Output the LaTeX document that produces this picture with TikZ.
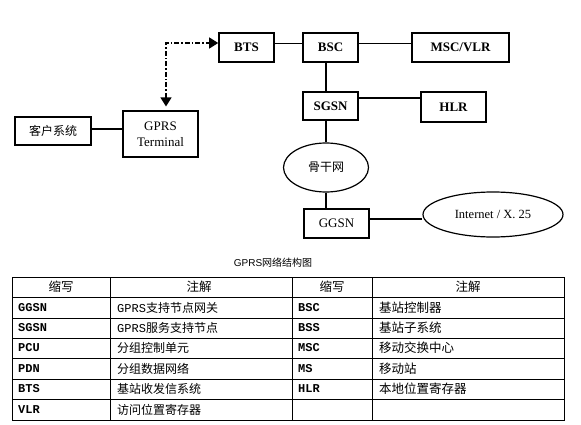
\documentclass[tikz,border=0pt]{standalone}
\usepackage{fontspec}
\setmainfont{Liberation Serif}
\newfontfamily\cjk{Noto Sans CJK SC}
\newfontfamily\monof{Liberation Mono}
\newfontfamily\sansf{Liberation Sans}
\usetikzlibrary{arrows.meta,shapes.geometric}
\begin{document}
\begin{tikzpicture}[x=1pt,y=-1pt,
  thick box/.style={draw, line width=1.6pt, inner sep=0pt, font=\fontsize{13}{15}\selectfont\bfseries},
  thin box/.style={draw, line width=1.1pt, inner sep=0pt, font=\fontsize{13}{15}\selectfont, align=center},
  oval/.style={draw, ellipse, line width=1.2pt, inner sep=0pt, font=\fontsize{12.5}{15}\selectfont},
  link/.style={line width=1.1pt},
  radio/.style={line width=1.2pt, dash pattern=on 5pt off 2pt on 1.5pt off 2pt,
     {Triangle[length=9pt,width=11pt]}-{Triangle[length=9pt,width=11pt]}},
  tline/.style={line width=0.8pt},
  cell/.style={anchor=west, inner sep=0pt, font=\fontsize{12}{14}\selectfont},
  head/.style={inner sep=0pt, font=\fontsize{12.5}{14}\selectfont\cjk},
]
\useasboundingbox (0,0) rectangle (581,425);

% diagram nodes
\node[thick box, minimum width=76pt, minimum height=28pt, font=\fontsize{12}{14}\selectfont\cjk] (cs) at (53,131) {客户系统};
\node[thin box, minimum width=75pt, minimum height=46pt] (term) at (160.5,134) {GPRS\\[1pt]Terminal};
\node[thick box, minimum width=55pt, minimum height=29pt] (bts) at (246.5,47.5) {BTS};
\node[thick box, minimum width=55pt, minimum height=29pt] (bsc) at (330.5,47.5) {BSC};
\node[thick box, minimum width=97pt, minimum height=29pt] (msc) at (460.5,47.5) {MSC/VLR};
\node[thick box, minimum width=55pt, minimum height=28pt] (sgsn) at (330.5,106) {SGSN};
\node[thick box, minimum width=65pt, minimum height=30pt] (hlr) at (453.5,107) {HLR};
\node[oval, minimum width=85pt, minimum height=49pt, font=\fontsize{12}{14}\selectfont\cjk] (bb) at (326,167.5) {骨干网};
\node[thin box, minimum width=65pt, minimum height=29pt] (ggsn) at (336.5,223.5) {GGSN};
\node[oval, minimum width=140pt, minimum height=45pt] (inet) at (493,214.5) {Internet / X. 25};

% connectors
\draw[link] ([yshift=2pt]cs.east) -- ([yshift=2pt]cs.east -| term.west);
\draw[radio] ([xshift=5.5pt,yshift=4pt]term.north) |- ([yshift=4.5pt]bts.west);
\draw[link] ([yshift=4pt]bts.east) -- ([yshift=4pt]bts.east -| bsc.west);
\draw[link] ([yshift=4pt]bsc.east) -- ([yshift=4pt]bsc.east -| msc.west);
\draw[link] ([xshift=-4.5pt]bsc.south) -- ([xshift=-4.5pt]bsc.south |- sgsn.north);
\draw[link] ([yshift=8pt]sgsn.east) -- ([yshift=8pt]sgsn.east -| hlr.west);
\draw[link] ([xshift=-4.5pt]sgsn.south) -- (bb.north);
\draw[link] (bb.south) -- (bb.south |- ggsn.north);
\draw[link] ([yshift=4.5pt]ggsn.east) -- ([yshift=4.5pt]ggsn.east -| inet.west);

% caption
\node[inner sep=0pt, font=\fontsize{10}{12}\selectfont] (cap) at (273,263) {{\sansf GPRS}{\cjk 网络结构图}};

% table
\draw[tline] (12,277) rectangle (564,420);
\foreach \yy in {297,318,338,358,379,399} \draw[tline] (12,\yy) -- (564,\yy);
\foreach \xx in {110,292,372} \draw[tline] (\xx,277) -- (\xx,420);

\node[head] (h1) at (61,287) {缩写};
\node[head] (h2) at (199,287) {注解};
\node[head] (h3) at (332,287) {缩写};
\node[head] (h4) at (468,287) {注解};

\foreach \yy/\a/\b/\c/\d [count=\i] in {
  307.5/GGSN/{{\monof GPRS}{\cjk 支持节点网关}}/BSC/基站控制器,
  328/SGSN/{{\monof GPRS}{\cjk 服务支持节点}}/BSS/基站子系统,
  348/PCU/{\cjk 分组控制单元}/MSC/移动交换中心,
  368.5/PDN/{\cjk 分组数据网络}/MS/移动站,
  389/BTS/{\cjk 基站收发信系统}/HLR/本地位置寄存器,
  409.5/VLR/{\cjk 访问位置寄存器}//}{
  \node[cell, font=\fontsize{12}{14}\selectfont\monof\bfseries] (a\i) at (18,\yy) {\a};
  \node[cell] (b\i) at (117,\yy) {\b};
  \node[cell, font=\fontsize{12}{14}\selectfont\monof\bfseries] (c\i) at (298,\yy) {\c};
  \node[cell, font=\fontsize{12.5}{14}\selectfont\cjk] (d\i) at (379,\yy) {\d};
}
\end{tikzpicture}
\end{document}
